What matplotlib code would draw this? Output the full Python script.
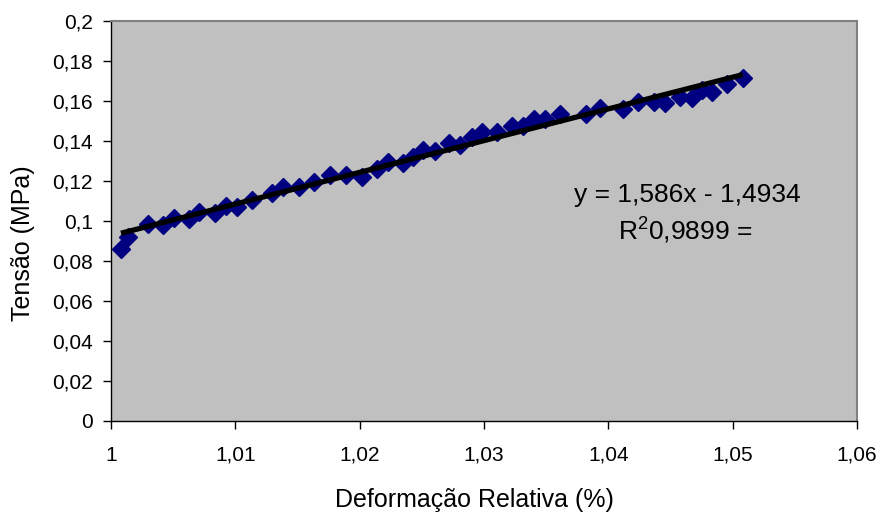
import matplotlib
matplotlib.use("Agg")
import matplotlib.pyplot as plt
import numpy as np

# Deformação relativa (%) vs Tensão (MPa)
deformacao = [1.0008, 1.00134, 1.00295, 1.00421, 1.00507, 1.0063, 1.0071, 1.00836,
              1.00923, 1.01011, 1.01132, 1.01293, 1.01381, 1.01512, 1.01633, 1.01761,
              1.01886, 1.02016, 1.02142, 1.02226, 1.02351, 1.02431, 1.02512, 1.02606,
              1.02721, 1.02807, 1.02901, 1.02982, 1.03102, 1.03228, 1.03316, 1.03405,
              1.03491, 1.03611, 1.0382, 1.03933, 1.04116, 1.04241, 1.04367, 1.04456,
              1.04576, 1.04671, 1.04751, 1.04831, 1.04952, 1.05081]
tensao = [0.086, 0.0919, 0.0985, 0.098, 0.1014, 0.101, 0.1044, 0.1042,
          0.1077, 0.1072, 0.1105, 0.1139, 0.1169, 0.1169, 0.1197, 0.1232,
          0.123, 0.1222, 0.126, 0.1294, 0.1289, 0.1322, 0.1355, 0.1352,
          0.1389, 0.138, 0.1422, 0.1447, 0.1444, 0.1477, 0.1477, 0.151,
          0.151, 0.1535, 0.1533, 0.1564, 0.156, 0.1597, 0.1594, 0.1589,
          0.1622, 0.1617, 0.1655, 0.1647, 0.1684, 0.1717]

# linear trendline coefficients (as printed on the chart)
slope = 1.586
intercept = -1.4934

xticks = [1.0, 1.01, 1.02, 1.03, 1.04, 1.05, 1.06]
xtick_labels = ["1", "1,01", "1,02", "1,03", "1,04", "1,05", "1,06"]
yticks = [0, 0.02, 0.04, 0.06, 0.08, 0.1, 0.12, 0.14, 0.16, 0.18, 0.2]
ytick_labels = ["0", "0,02", "0,04", "0,06", "0,08", "0,1", "0,12", "0,14", "0,16", "0,18", "0,2"]

plt.rcParams["font.family"] = ["Liberation Sans", "DejaVu Sans"]
plt.rcParams["mathtext.fontset"] = "custom"
plt.rcParams["mathtext.rm"] = "Liberation Sans"
plt.rcParams["mathtext.default"] = "rm"

fig = plt.figure(figsize=(8.84, 5.18), dpi=100)
ax = fig.add_axes([0.1256, 0.1873, 0.8439, 0.7722])
ax.set_facecolor("#C0C0C0")

ax.plot(deformacao, tensao, linestyle="none", marker="D", markersize=9.5,
        color="#000080", zorder=2)

xfit = np.array([min(deformacao), max(deformacao)])
ax.plot(xfit, slope * xfit + intercept, color="black", linewidth=3.8,
        solid_capstyle="butt", zorder=3)

ax.set_xlim(1.0, 1.06)
ax.set_ylim(0, 0.2)
ax.set_xticks(xticks)
ax.set_xticklabels(xtick_labels, fontsize=15)
ax.set_yticks(yticks)
ax.set_yticklabels(ytick_labels, fontsize=15)
ax.tick_params(direction="out", length=6, width=1, color="black")
ax.tick_params(axis="y", pad=7)
ax.tick_params(axis="x", pad=12)

for side in ["top", "right"]:
    ax.spines[side].set_color("#808080")
    ax.spines[side].set_linewidth(1.5)
for side in ["left", "bottom"]:
    ax.spines[side].set_color("black")
    ax.spines[side].set_linewidth(1)

ax.set_xlabel("Deformação Relativa (%)", fontsize=18)
ax.xaxis.set_label_coords(0.487, -0.168)
ax.set_ylabel("Tensão (MPa)", fontsize=18)
ax.yaxis.set_label_coords(-0.102, 0.444)

ax.text(0.772, 0.548, "y = 1,586x - 1,4934", transform=ax.transAxes,
        fontsize=19, ha="center", va="baseline")
ax.text(0.77, 0.4525, "R$^2$0,9899 =", transform=ax.transAxes,
        fontsize=19, ha="center", va="baseline")

fig.savefig("out.png", dpi=100)
